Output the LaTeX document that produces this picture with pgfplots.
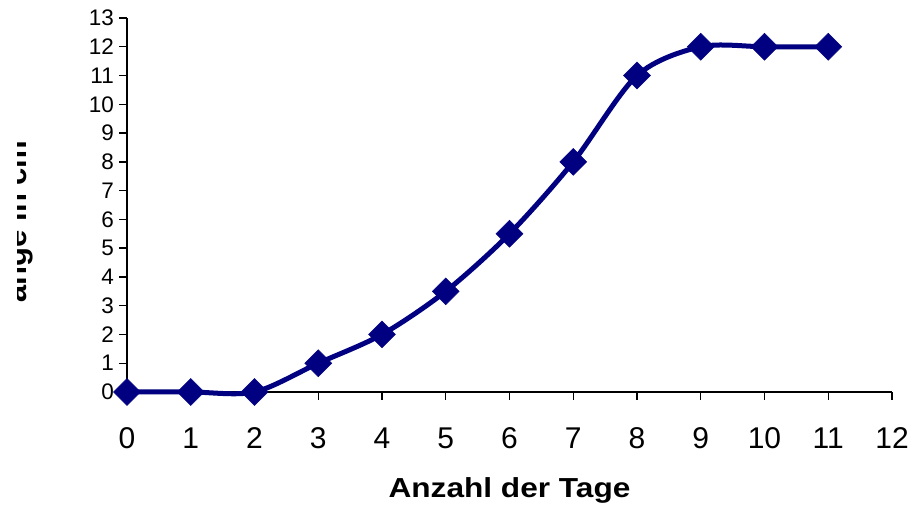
\documentclass[border=0pt]{standalone}
\usepackage{fontspec}
\setmainfont{Liberation Sans}
\usepackage{pgfplots}
\pgfplotsset{compat=1.18}
\definecolor{navy}{RGB}{0,0,128}
\begin{document}
\begin{tikzpicture}[x=1pt,y=1pt]
\useasboundingbox (0,0) rectangle (914,508);
\begin{axis}[
  at={(127pt,116pt)}, anchor=south west,
  scale only axis, width=765pt, height=374pt,
  xmin=0, xmax=12, ymin=0, ymax=13,
  xtick={0,...,12}, ytick={0,...,13},
  axis x line*=bottom, axis y line*=left,
  axis line style={line width=1.4pt, black},
  tick align=outside, major tick length=8pt,
  every tick/.style={black, line width=1.4pt},
  /pgf/number format/assume math mode=true,
  xticklabel style={font=\fontsize{30}{34}\selectfont, anchor=base, inner sep=0pt},
  yticklabel style={font=\fontsize{22.5}{26}\selectfont, anchor=east, inner sep=0pt},
  every x tick label/.append style={yshift=-49pt},
  every y tick label/.append style={xshift=-5pt},
  xlabel={Anzahl der Tage},
  xlabel style={font=\bfseries\fontsize{27.5}{30}\selectfont, xscale=1.15, at={(axis description cs:0.5,0)}, anchor=base, yshift=-106pt, inner sep=0pt},
  clip=false,
]
\addplot[draw=navy, line width=5pt, smooth, mark=square*, mark size=9.5pt,
  mark options={rotate=45, solid, fill=navy, draw=navy, line width=0.5pt}]
  coordinates {(0,0) (1,0) (2,0) (3,1) (4,2) (5,3.5) (6,5.5) (7,8) (8,11) (9,12) (10,12) (11,12)};
\end{axis}
\begin{scope}
\clip (17,205) rectangle (60,508);
\node[rotate=90, anchor=base, inner sep=0pt, font=\bfseries\fontsize{31}{34}\selectfont] at (27,277) {Länge in cm};
\end{scope}
\end{tikzpicture}
\end{document}
